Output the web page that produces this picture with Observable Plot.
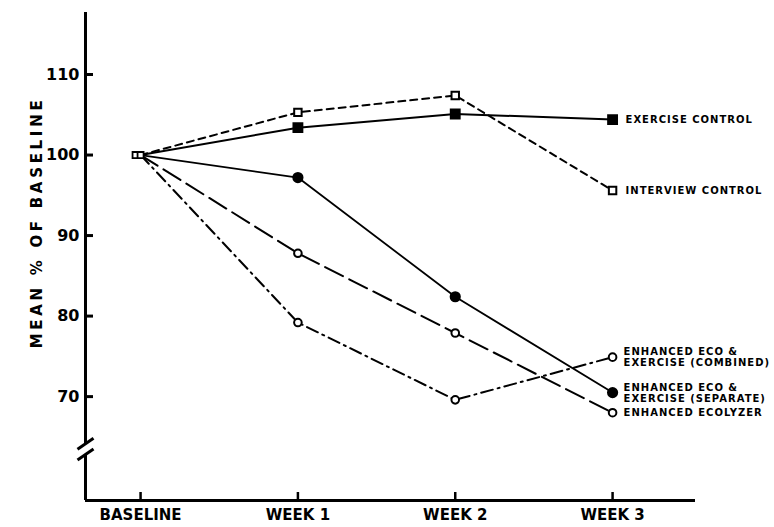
<!DOCTYPE html>
<html><head><meta charset="utf-8">
<script src="https://cdn.jsdelivr.net/npm/d3@7"></script>
<script src="https://cdn.jsdelivr.net/npm/@observablehq/plot@0.6"></script>
<style>body{margin:0;background:#fff}</style>
</head><body><div id="chart"></div>
<script>
// ---- data ----
const weeks = ["BASELINE", "WEEK 1", "WEEK 2", "WEEK 3"];
const exerciseControl     = [100, 103.4, 105.1, 104.4];
const interviewControl    = [100, 105.3, 107.4, 95.6];
const ecoExerciseSeparate = [100, 97.2, 82.4, 70.5];
const ecolyzer            = [100, 87.8, 77.9, 68.0];
const ecoExerciseCombined = [100, 79.2, 69.6, 74.9];
const yTicks = [70, 80, 90, 100, 110];
const seriesNames = ["EXERCISE CONTROL", "INTERVIEW CONTROL", "ENHANCED ECO &\nEXERCISE (SEPARATE)", "ENHANCED ECOLYZER", "ENHANCED ECO &\nEXERCISE (COMBINED)"];
const yTitle = "MEAN % OF BASELINE";

// ---- layout ----
const W = 774, H = 527, mL = 85, mR = 79, mT = 12, mB = 27;
const X0 = -0.35, X1 = 3.527, Y0 = 57.1, Y1 = 117.7;
const kx = (X1 - X0) / (W - mL - mR);   // x units per pixel
const ky = (Y1 - Y0) / (H - mT - mB);   // y units per pixel

const allValues = [exerciseControl, interviewControl, ecoExerciseSeparate, ecolyzer, ecoExerciseCombined];
const styles = [
  {dash: null, symbol: "square", fill: "black", r: 5, sw: 2, dx: 13},
  {dash: "7,5", symbol: "square", fill: "white", r: 4.2, sw: 2, dx: 13},
  {dash: null, symbol: "circle", fill: "black", r: 4.6, sw: 1.8, dx: 11},
  {dash: "20,7", symbol: "circle", fill: "white", r: 3.8, sw: 2, dx: 11},
  {dash: "12,5,2,5", symbol: "circle", fill: "white", r: 3.8, sw: 2, dx: 11}
];
const rows = allValues.map((vals, s) => vals.map((v, i) => ({s, name: seriesNames[s], week: i, value: v})));

// axis break
const breakHi = 100 - (443.3 - 154.6) / 8.053;
const breakLo = 100 - (454 - 154.6) / 8.053;
const slashes = [breakHi, breakLo].map(c => ({x1: X0 - 8 * kx, y1: c - 5.5 * ky, x2: X0 + 8 * kx, y2: c + 5.5 * ky}));

const marks = [
  // axis lines
  Plot.ruleX([X0], {y1: Y0, y2: breakLo, strokeWidth: 3}),
  Plot.ruleX([X0], {y1: breakHi, y2: Y1, strokeWidth: 3}),
  Plot.ruleY([Y0], {x1: X0, x2: X1, strokeWidth: 3}),
  Plot.link(slashes, {x1: "x1", y1: "y1", x2: "x2", y2: "y2", strokeWidth: 3}),
  // ticks
  Plot.ruleY(yTicks, {x1: X0, x2: X0 + 8 * kx, strokeWidth: 3}),
  Plot.ruleX([0, 1, 2, 3], {y1: Y0, y2: Y0 + 8 * ky, strokeWidth: 2.5}),
  Plot.axisY({ticks: yTicks, tickSize: 0, tickPadding: 6, label: null, fontSize: 16, fontWeight: "bold", fontFamily: "DejaVu Sans"}),
  Plot.axisX({ticks: [0, 1, 2, 3], tickFormat: i => weeks[i], tickSize: 0, tickPadding: 9, label: null, fontSize: 15, fontWeight: "bold", fontFamily: "DejaVu Sans"}),
  Plot.text([yTitle], {frameAnchor: "left", textAnchor: "middle", rotate: -90, dx: -48, dy: -34, fontSize: 15, fontWeight: "bold", fontFamily: "DejaVu Sans", className: "ytitle"})
];

rows.forEach((data, s) => {
  const st = styles[s];
  marks.push(Plot.line(data, {x: "week", y: "value", stroke: "black", strokeWidth: st.sw, strokeDasharray: st.dash || undefined}));
});
// baseline markers (two open squares)
marks.push(Plot.dot([rows[0][0]], {x: "week", y: "value", symbol: "square", r: 3.4, fill: "white", stroke: "black", strokeWidth: 1.8, dx: -5}));
marks.push(Plot.dot([rows[1][0]], {x: "week", y: "value", symbol: "square", r: 3.4, fill: "white", stroke: "black", strokeWidth: 1.8, dx: 0}));
rows.forEach((data, s) => {
  const st = styles[s];
  marks.push(Plot.dot(data.filter(d => d.week > 0), {x: "week", y: "value", symbol: st.symbol, r: st.r, fill: st.fill, stroke: "black", strokeWidth: 2}));
  marks.push(Plot.text(data.filter(d => d.week === 3), {x: "week", y: "value", text: "name", textAnchor: "start", lineAnchor: "middle", lineHeight: 1.1, dx: st.dx, fontSize: 10, fontWeight: "bold", fontFamily: "DejaVu Sans", className: "serieslabel"}));
});

const svg = Plot.plot({
  width: W, height: H,
  marginLeft: mL, marginRight: mR, marginTop: mT, marginBottom: mB,
  x: {domain: [X0, X1]},
  y: {domain: [Y0, Y1]},
  style: {background: "white", color: "black", overflow: "visible"},
  marks
});
// letter spacing (matched by text content, robust to class support)
const labelLines = new Set(seriesNames.flatMap(n => n.split("\n")));
d3.select(svg).selectAll("text").each(function () {
  const t = this.textContent;
  if (t === yTitle) d3.select(this).style("letter-spacing", "3.7px");
  else if ([...labelLines].some(l => t.includes(l))) d3.select(this).style("letter-spacing", "1px");
});
document.getElementById("chart").appendChild(svg);
</script>
</body></html>
